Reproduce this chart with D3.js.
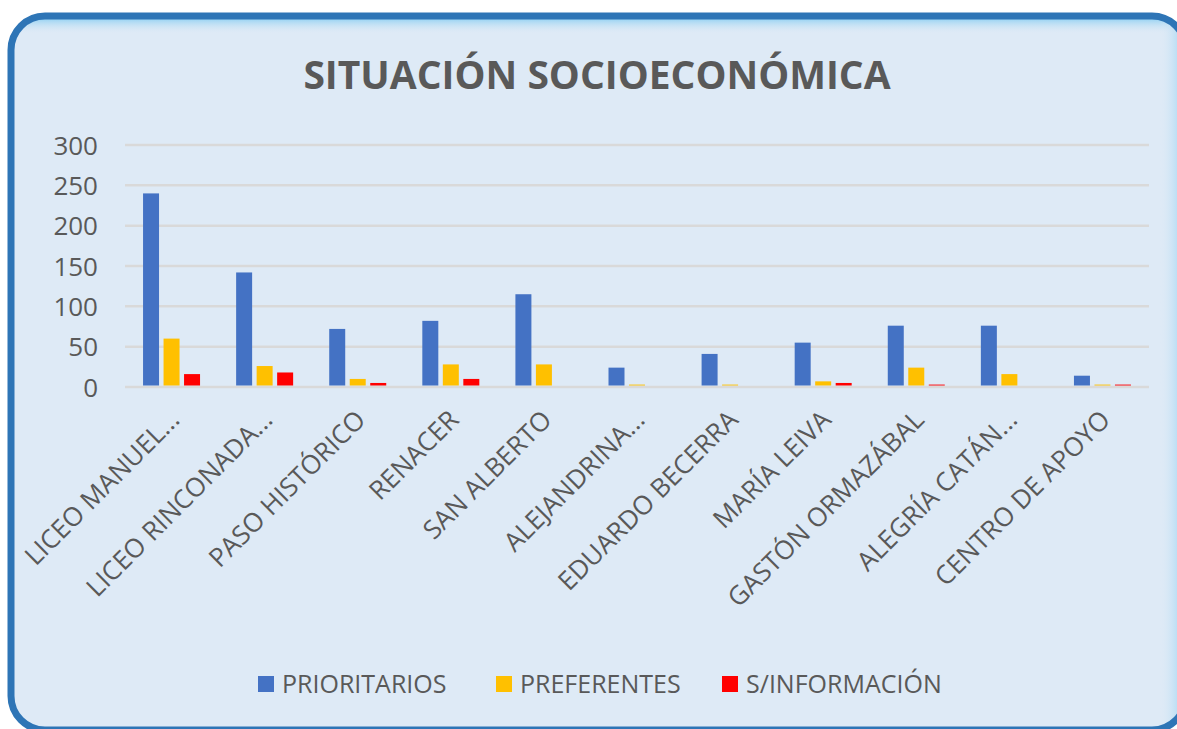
<!DOCTYPE html>
<meta charset="utf-8">
<style>
body { margin: 0; background: #fff; }
text { font-family: "Open Sans", sans-serif; fill: #595959; }
</style>
<svg width="1177" height="729"></svg>
<script src="https://d3js.org/d3.v7.min.js"></script>
<script>

var categories = ["LICEO MANUEL...", "LICEO RINCONADA...", "PASO HISTÓRICO", "RENACER", "SAN ALBERTO",
                  "ALEJANDRINA...", "EDUARDO BECERRA", "MARÍA LEIVA", "GASTÓN ORMAZÁBAL", "ALEGRÍA CATÁN...", "CENTRO DE APOYO"];
var seriesNames = ["PRIORITARIOS", "PREFERENTES", "S/INFORMACIÓN"];
var prioritarios = [240, 142, 72, 82, 115, 24, 41, 55, 76, 76, 14];
var preferentes  = [60, 26, 10, 28, 28, 3, 3, 7, 24, 16, 3];
var sinInfo      = [16, 18, 5, 10, 0, 0, 0, 5, 3, 0, 3];
var yTicks = [0, 50, 100, 150, 200, 250, 300];
var colors = ["#4472C4", "#FFC000", "#FF0000"];

var svg = d3.select("svg"),
    width = +svg.attr("width"),
    height = +svg.attr("height");

var series = [prioritarios, preferentes, sinInfo];
var rows = categories.map(function(c, i) {
  return { cat: c, vals: series.map(function(s) { return s[i]; }) };
});

// frame with soft inner glow on top and right
var defs = svg.append("defs");
defs.append("clipPath").attr("id", "frameClip")
  .append("rect")
    .attr("x", 11).attr("y", 16)
    .attr("width", 1175).attr("height", 714)
    .attr("rx", 34).attr("ry", 34);

var gTop = defs.append("linearGradient").attr("id", "glowTop").attr("x1", 0).attr("y1", 0).attr("x2", 0).attr("y2", 1);
gTop.append("stop").attr("offset", "0%").attr("stop-color", "#8fd0f2");
gTop.append("stop").attr("offset", "100%").attr("stop-color", "#deeaf6").attr("stop-opacity", 0);
var gRight = defs.append("linearGradient").attr("id", "glowRight").attr("x1", 1).attr("y1", 0).attr("x2", 0).attr("y2", 0);
gRight.append("stop").attr("offset", "0%").attr("stop-color", "#8fd0f2");
gRight.append("stop").attr("offset", "100%").attr("stop-color", "#deeaf6").attr("stop-opacity", 0);

svg.append("rect")
    .attr("x", 11).attr("y", 16)
    .attr("width", 1175).attr("height", 714)
    .attr("rx", 34).attr("ry", 34)
    .attr("fill", "#deeaf6");
var glow = svg.append("g").attr("clip-path", "url(#frameClip)");
glow.append("rect").attr("x", 11).attr("y", 18).attr("width", 1175).attr("height", 16).attr("fill", "url(#glowTop)");
glow.append("rect").attr("x", 1160).attr("y", 16).attr("width", 26).attr("height", 714).attr("fill", "url(#glowRight)");
svg.append("rect")
    .attr("x", 11).attr("y", 16)
    .attr("width", 1175).attr("height", 714)
    .attr("rx", 34).attr("ry", 34)
    .attr("fill", "none")
    .attr("stroke", "#2e75b6")
    .attr("stroke-width", 7);

// title
svg.append("text")
    .attr("x", 597).attr("y", 89)
    .attr("text-anchor", "middle")
    .style("font-size", "39px")
    .style("font-weight", "bold")
    .text("SITUACIÓN SOCIOECONÓMICA");

var margin = { left: 125, right: 1149, top: 145, bottom: 387 };

var x0 = d3.scaleBand().domain(categories).range([margin.left, margin.right]);
var x1 = d3.scaleBand().domain(d3.range(3)).range([-28.5, 28.5]).paddingInner(0.22);
var y = d3.scaleLinear().domain([0, 300]).range([margin.bottom, margin.top]);

// gridlines
svg.append("g")
  .selectAll("line")
  .data(yTicks)
  .enter().append("line")
    .attr("x1", margin.left).attr("x2", margin.right)
    .attr("y1", function(d) { return y(d); })
    .attr("y2", function(d) { return y(d); })
    .attr("stroke", "#d9d9d9")
    .attr("stroke-width", 2.5);

// y axis labels
var yAxis = svg.append("g")
    .attr("transform", "translate(98,0)")
    .call(d3.axisLeft(y).tickValues(yTicks).tickSize(0).tickPadding(0));
yAxis.select(".domain").remove();
yAxis.selectAll("text")
    .attr("dy", "0.35em")
    .style("font-size", "26px")
    .style("font-family", "'Open Sans', sans-serif")
    .attr("fill", "#595959");

// bars
var groups = svg.append("g")
  .selectAll("g")
  .data(rows)
  .enter().append("g")
    .attr("transform", function(d) { return "translate(" + (x0(d.cat) + x0.bandwidth() / 2) + ",0)"; });

groups.selectAll("rect")
    .data(function(d) { return d.vals; })
  .enter().filter(function(d) { return d > 0; }).append("rect")
    .attr("x", function(d, i) { return x1(i); })
    .attr("width", x1.bandwidth())
    .attr("y", function(d) { return y(d); })
    .attr("height", function(d) { return y(0) - 1.5 - y(d); })
    .attr("fill", function(d, i) { return colors[i]; });

// category labels
svg.append("g")
  .selectAll("text")
  .data(categories)
  .enter().append("text")
    .attr("transform", function(d) {
      return "translate(" + (x0(d) + x0.bandwidth() / 2 + 3) + ",415) rotate(-45)";
    })
    .attr("text-anchor", "end")
    .attr("dy", "0.35em")
    .style("font-size", "26px")
    .text(function(d) { return d; });

// legend
var legendX = [258, 496, 722];
var legend = svg.append("g")
  .selectAll("g")
  .data(seriesNames)
  .enter().append("g")
    .attr("transform", function(d, i) { return "translate(" + legendX[i] + ",676)"; });
legend.append("rect")
    .attr("width", 16).attr("height", 16)
    .attr("fill", function(d, i) { return colors[i]; });
legend.append("text")
    .attr("x", 24).attr("y", 17)
    .style("font-size", "25px")
    .text(function(d) { return d; });

</script>
